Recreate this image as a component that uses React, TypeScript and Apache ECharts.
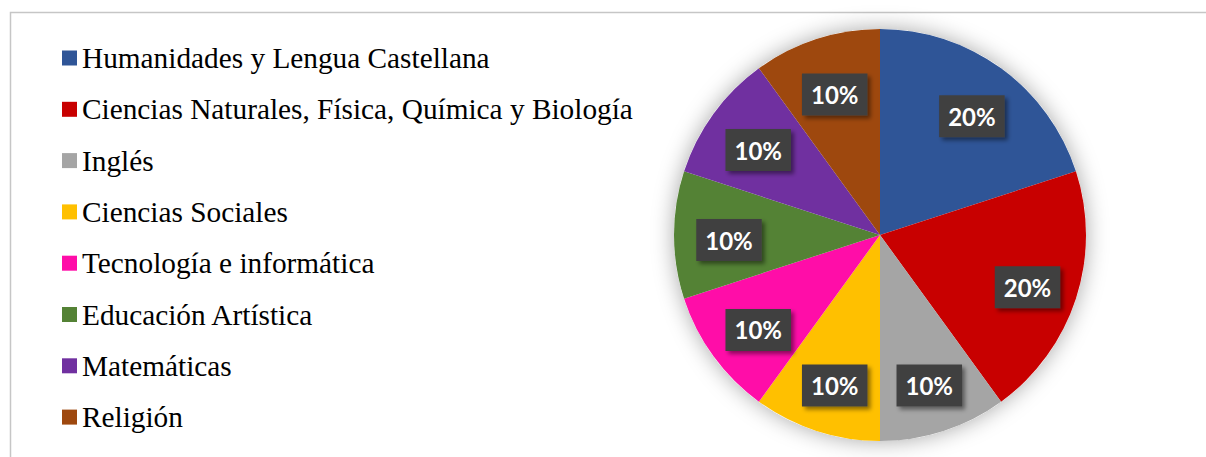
import React, { useEffect, useRef } from "react";
import * as echarts from "echarts";

const categories = [
  "Humanidades y Lengua Castellana",
  "Ciencias Naturales, Física, Química y Biología",
  "Inglés",
  "Ciencias Sociales",
  "Tecnología e informática",
  "Educación Artística",
  "Matemáticas",
  "Religión",
];
const values = [20, 20, 10, 10, 10, 10, 10, 10];
const colors = ["#2F5597", "#C80000", "#A5A5A5", "#FFC000", "#FF0DA8", "#548235", "#7030A0", "#9E480E"];

export default function App() {
  const ref = useRef<HTMLDivElement>(null);
  useEffect(() => {
    if (!ref.current) return;
    const chart = echarts.init(ref.current, null, { renderer: "svg" });
    const data = categories.map((name, i) => ({ name, value: values[i], itemStyle: { color: colors[i] } }));
    const center = [880, 235];
    chart.setOption({
      animation: false,
      backgroundColor: "#ffffff",
      graphic: [
        {
          type: "rect",
          shape: { x: 10.5, y: 12.5, width: 1220, height: 480 },
          style: { fill: "none", stroke: "#c6c6c6", lineWidth: 1.5 },
          silent: true,
          z: 0,
        },
      ],
      legend: {
        orient: "vertical",
        left: 57,
        top: 36,
        itemWidth: 15,
        itemHeight: 15,
        itemGap: 17.3,
        icon: "rect",
        selectedMode: false,
        textStyle: {
          fontFamily: "'Liberation Serif', 'Times New Roman', 'DejaVu Serif', serif",
          fontSize: 29.3,
          lineHeight: 34,
          color: "#000000",
        },
        data: categories.map((name, i) => ({ name, itemStyle: { color: colors[i] } })),
      },
      series: [
        {
          type: "pie",
          name: "shadow",
          center,
          radius: 206,
          silent: true,
          z: 1,
          label: { show: false },
          labelLine: { show: false },
          itemStyle: { color: "#ffffff", shadowBlur: 22, shadowColor: "rgba(0,0,0,0.35)" },
          data: [{ name: "__shadow", value: 1 }],
        },
        {
          type: "pie",
          name: "main",
          center,
          radius: 206,
          startAngle: 90,
          clockwise: true,
          silent: true,
          z: 2,
          label: { show: false },
          labelLine: { show: false },
          itemStyle: { borderWidth: 0 },
          data,
        },
        {
          type: "pie",
          name: "labels",
          center: [882, 240],
          radius: [0, 300],
          startAngle: 90,
          clockwise: true,
          silent: true,
          z: 3,
          itemStyle: { color: "rgba(0,0,0,0)" },
          labelLine: { show: false },
          label: {
            show: true,
            position: "inside",
            formatter: "{c}%",
            fontFamily: "Lato",
            fontWeight: "bold",
            fontSize: 24,
            lineHeight: 25,
            color: "#ffffff",
            backgroundColor: "#404040",
            padding: [9, 9, 8, 9],
            shadowBlur: 4,
            shadowOffsetX: 3,
            shadowOffsetY: 3,
            shadowColor: "rgba(0,0,0,0.45)",
          },
          data: categories.map((name, i) => ({ name, value: values[i] })),
        },
      ],
    });
    return () => chart.dispose();
  }, []);
  return <div ref={ref} style={{ position: "fixed", left: 0, top: 0, width: 1206, height: 457 }} />;
}
